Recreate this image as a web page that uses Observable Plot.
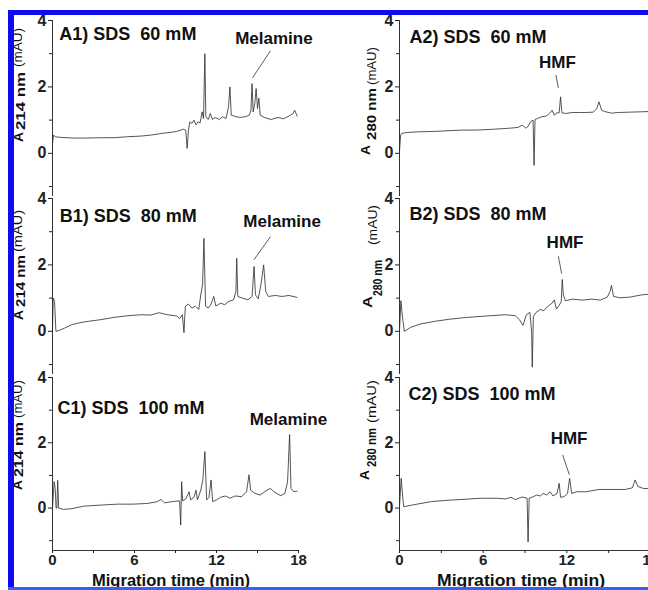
<!DOCTYPE html>
<html><head><meta charset="utf-8">
<script src="https://cdn.jsdelivr.net/npm/d3@7"></script>
<script src="https://cdn.jsdelivr.net/npm/@observablehq/plot@0.6"></script>
<style>
html,body{margin:0;padding:0;background:#fff;}
#chart{position:relative;width:648px;height:590px;overflow:hidden;background:#fff;font-family:"Liberation Sans",Arial,sans-serif;}
#chart > svg{position:absolute;}
</style></head><body><div id="chart"></div>
<script>
// ---- data: [migration time (min), absorbance (mAU)] ----
const timeTicks = [0, 6, 12, 18];
const timeMinor = [3, 9, 15];
const absTicks = [4, 2, 0];
const absMinor = [3, 1, -1];

const traceA1 = [[0,0.3],[0.08,0.55],[0.2,0.5],[0.6,0.48],[1.5,0.46],[2.5,0.46],[3.5,0.47],[4.5,0.47],[5.5,0.5],[6.5,0.52],[7.2,0.55],[8.0,0.6],[8.6,0.63],[9.1,0.66],[9.6,0.73],[9.75,0.7],[9.85,0.15],[9.95,0.7],[10.05,0.95],[10.2,0.9],[10.35,1.0],[10.5,0.86],[10.65,0.95],[10.8,0.92],[10.95,1.25],[11.05,1.05],[11.15,3.0],[11.22,1.1],[11.4,1.02],[11.55,1.2],[11.7,1.02],[11.9,1.08],[12.2,1.02],[12.45,1.1],[12.7,1.05],[12.88,1.4],[12.98,2.0],[13.08,1.15],[13.3,1.12],[13.7,1.08],[14.1,1.1],[14.4,1.15],[14.52,1.3],[14.6,2.1],[14.68,1.25],[14.8,1.5],[14.9,1.95],[15.0,1.35],[15.1,1.66],[15.2,1.15],[15.5,1.08],[16.0,1.02],[16.5,1.08],[16.9,1.04],[17.3,1.12],[17.6,1.2],[17.72,1.3],[17.9,1.12]];
const traceA2 = [[0,0.05],[0.08,0.55],[0.15,0.6],[0.6,0.63],[1.5,0.65],[2.5,0.66],[3.5,0.68],[4.5,0.7],[5.5,0.7],[6.5,0.72],[7.3,0.74],[8.0,0.76],[8.5,0.78],[8.8,0.85],[9.05,0.76],[9.2,0.8],[9.4,0.95],[9.58,1.0],[9.65,-0.36],[9.72,1.02],[9.9,1.05],[10.2,1.1],[10.5,1.12],[10.75,1.2],[10.95,1.3],[11.1,1.15],[11.3,1.22],[11.45,1.22],[11.55,1.7],[11.65,1.22],[11.9,1.2],[12.4,1.23],[12.9,1.23],[13.4,1.23],[13.9,1.24],[14.15,1.35],[14.3,1.55],[14.5,1.3],[14.7,1.26],[15.2,1.21],[15.7,1.23],[16.5,1.24],[17.3,1.25],[18,1.26]];
const traceB1 = [[0,0.0],[0.05,1.0],[0.15,0.9],[0.25,0.0],[0.5,0.03],[0.9,0.1],[1.4,0.2],[2.0,0.26],[2.6,0.3],[3.5,0.35],[4.5,0.42],[5.5,0.47],[6.5,0.5],[7.2,0.49],[7.8,0.56],[8.4,0.5],[9.1,0.46],[9.3,0.38],[9.5,0.5],[9.62,-0.04],[9.72,0.76],[9.95,0.82],[10.2,0.7],[10.45,0.76],[10.7,0.66],[10.85,1.1],[10.98,1.4],[11.08,2.8],[11.2,0.76],[11.4,0.7],[11.6,0.82],[11.8,1.05],[11.95,0.76],[12.3,0.85],[12.6,0.8],[12.9,0.9],[13.25,0.95],[13.42,1.2],[13.48,2.2],[13.56,1.05],[13.9,1.0],[14.3,0.95],[14.6,1.05],[14.75,1.95],[14.85,1.1],[15.05,0.98],[15.25,1.4],[15.45,2.0],[15.6,1.2],[15.8,1.05],[16.3,1.08],[16.8,1.05],[17.3,1.08],[17.9,1.02]];
const traceB2 = [[0,0.0],[0.1,0.92],[0.22,0.4],[0.35,0.0],[0.8,0.12],[1.5,0.22],[2.5,0.3],[3.5,0.36],[4.6,0.41],[5.5,0.44],[6.5,0.47],[7.6,0.5],[8.3,0.47],[8.6,0.35],[8.85,0.18],[9.1,0.5],[9.35,0.57],[9.48,-0.05],[9.52,-1.08],[9.6,0.45],[9.8,0.57],[10.1,0.66],[10.35,0.62],[10.6,0.74],[10.95,0.85],[11.1,0.95],[11.25,0.67],[11.45,0.78],[11.6,0.9],[11.67,1.56],[11.75,1.1],[11.9,0.92],[12.4,0.97],[13.1,0.94],[13.8,0.97],[14.4,0.94],[14.9,1.03],[15.1,1.2],[15.2,1.38],[15.35,1.05],[15.8,1.01],[16.5,1.03],[17.4,1.1],[18,1.12]];
const traceC1 = [[0,0.0],[0.12,0.81],[0.2,0.6],[0.26,0.0],[0.32,0.0],[0.38,0.85],[0.45,0.0],[0.8,-0.04],[1.4,-0.02],[2.3,0.06],[3.5,0.09],[4.75,0.12],[5.9,0.12],[6.9,0.14],[7.6,0.19],[7.95,0.26],[8.2,0.16],[8.8,0.2],[9.3,0.22],[9.38,-0.52],[9.45,0.81],[9.52,0.22],[9.75,0.28],[10.0,0.5],[10.1,0.25],[10.35,0.33],[10.5,0.55],[10.6,0.25],[10.85,0.55],[11.0,0.86],[11.15,1.73],[11.28,0.25],[11.45,0.33],[11.6,0.86],[11.72,0.2],[12.0,0.25],[12.3,0.33],[12.65,0.37],[13.0,0.3],[13.35,0.37],[13.85,0.35],[14.2,0.5],[14.38,1.02],[14.5,0.55],[14.8,0.45],[15.2,0.4],[15.7,0.55],[15.95,0.6],[16.2,0.5],[16.7,0.38],[17.0,0.45],[17.2,0.8],[17.35,2.25],[17.45,0.6],[17.65,0.5],[17.9,0.52]];
const traceC2 = [[0,0.04],[0.12,0.91],[0.22,0.4],[0.3,0.04],[1.0,0.1],[2.3,0.2],[3.5,0.24],[4.7,0.27],[5.8,0.3],[7.0,0.3],[7.6,0.28],[8.0,0.33],[8.3,0.26],[8.8,0.34],[9.15,0.3],[9.22,-1.04],[9.3,0.3],[9.6,0.35],[9.85,0.4],[10.1,0.37],[10.3,0.45],[10.55,0.4],[10.8,0.5],[11.0,0.37],[11.3,0.45],[11.45,0.76],[11.55,0.33],[11.8,0.35],[12.05,0.45],[12.2,0.91],[12.35,0.45],[12.7,0.5],[13.4,0.5],[14.3,0.57],[15.3,0.57],[16.2,0.57],[16.7,0.62],[16.9,0.86],[17.1,0.66],[17.5,0.6],[18,0.6]];

const titles = ["A1) SDS  60 mM","A2) SDS  60 mM","B1) SDS  80 mM","B2) SDS  80 mM","C1) SDS  100 mM","C2) SDS  100 mM"];
const peakNames = ["Melamine","HMF","Melamine","HMF","Melamine","HMF"];
const traces = [traceA1, traceA2, traceB1, traceB2, traceC1, traceC2];

// ---- label placement (data coordinates) ----
const titleAt = [[0.5,3.58],[0.72,3.5],[0.53,3.46],[0.72,3.54],[0.37,3.05],[0.65,3.48]];
const peakAt = [[16.2,3.45],[11.33,2.74],[16.8,3.31],[11.87,2.66],[17.26,2.71],[12.16,2.12]];
const leaders = [[[15.95,3.09],[14.63,2.27]],[[11.22,2.36],[11.39,1.97]],[[15.95,2.85],[14.73,2.15]],[[11.39,2.26],[11.63,1.74]],null,[[11.7,1.63],[12.18,1.02]]];

const FONT = '"Liberation Sans", Arial, Helvetica, sans-serif';
const rowTop = [0, 178, 357];
const chart = document.getElementById("chart");

traces.forEach((trace, i) => {
  const row = Math.floor(i / 2), col = i % 2;
  const bottom = row === 2;
  const frameH = bottom ? 173 : 176;
  const mb = bottom ? 36 : 4;
  const marks = [
    Plot.ruleX([0], {stroke: "#333", strokeWidth: 1}),
    Plot.axisY({ticks: absTicks, tickSize: 4, tickPadding: 2, tickFormat: d => String(d), label: null, fontSize: 16, fontWeight: "bold"}),
    Plot.axisY({ticks: absMinor, tickSize: 3, tickFormat: () => "", label: null}),
    Plot.line(trace, {x: d => d[0], y: d => d[1], stroke: "#2a2a2a", strokeWidth: 0.8}),
    Plot.text([{x: titleAt[i][0], y: titleAt[i][1], t: titles[i]}], {x: "x", y: "y", text: "t", textAnchor: "start", fontSize: 18, fontWeight: "bold", fill: "#111"}),
    Plot.text([{x: peakAt[i][0], y: peakAt[i][1], t: peakNames[i]}], {x: "x", y: "y", text: "t", fontSize: 17, fontWeight: "bold", fill: "#111"})
  ];
  if (leaders[i]) {
    marks.push(Plot.link([leaders[i]], {x1: d => d[0][0], y1: d => d[0][1], x2: d => d[1][0], y2: d => d[1][1], stroke: "#333", strokeWidth: 0.8}));
  }
  if (bottom) {
    marks.push(
      Plot.ruleY([-1.3], {stroke: "#333", strokeWidth: 1}),
      Plot.axisX({ticks: timeTicks, tickSize: 3, tickPadding: 1, tickFormat: d => String(d), label: null, fontSize: 15, fontWeight: "bold"}),
      Plot.axisX({ticks: timeMinor, tickSize: 3, tickFormat: () => "", label: null})
    );
  }
  const svg = Plot.plot({
    width: col === 0 ? 320 : 340,
    height: 20 + frameH + mb,
    marginTop: 20,
    marginBottom: mb,
    marginLeft: col === 0 ? 52 : 79,
    marginRight: col === 0 ? 22 : 10,
    x: {domain: [0, 18], axis: bottom ? undefined : null},
    y: {domain: [-1.3, 4]},
    style: {background: "transparent", overflow: "visible", fontFamily: FONT, fontSize: "16px", color: "#222"},
    marks
  });
  svg.style.left = (col === 0 ? 0 : 320) + "px";
  svg.style.top = rowTop[row] + "px";
  svg.style.maxWidth = "none";
  chart.appendChild(svg);
});

// ---- overlay: rotated y labels with subscripts, x labels, blue frame ----
const ov = d3.select(chart).append("svg")
  .attr("width", 648).attr("height", 590)
  .style("left", "0px").style("top", "0px")
  .style("font-family", FONT);

// [text, center x, bottom y, length, bold]
const yLabelParts = [
  ["A",19,142,10,true],["214 nm",21,130,58,true],["(mAU)",18,67,39,false],
  ["A",19,320,10,true],["214 nm",21,307,52,true],["(mAU)",18,252,42,false],
  ["A",18,490,10,true],["214 nm",19,477,55,true],["(mAU)",18,418,38,false],
  ["A",366,155,10,true],["280 nm",372,140,52,true],["(mAU)",372,85,38,false],
  ["A",368,308,12,true],["280 nm",378,296,36,true],["(mAU)",373,245,40,false],
  ["A",365,480,10,true],["280 nm",372,467,39,true],["(mAU)",372,423,43,false]
];
yLabelParts.forEach(([t, cx, yb, len, bold]) => {
  ov.append("text")
    .attr("transform", `translate(${cx},${yb}) rotate(-90)`)
    .attr("dominant-baseline", "central")
    .attr("text-anchor", "start")
    .attr("font-size", 12)
    .attr("font-weight", bold ? "bold" : "normal")
    .attr("textLength", len)
    .attr("lengthAdjust", "spacingAndGlyphs")
    .attr("fill", "#111")
    .text(t);
});

const xLabels = [["Migration time (min)",171,586,158],["Migration time (min)",521,586,168]];
xLabels.forEach(([t, cx, yb, len]) => {
  ov.append("text")
    .attr("x", cx - len / 2).attr("y", yb)
    .attr("font-size", 16).attr("font-weight", "bold")
    .attr("textLength", len).attr("lengthAdjust", "spacingAndGlyphs")
    .attr("fill", "#111")
    .text(t);
});

ov.append("rect").attr("x", 8).attr("y", 10).attr("width", 640).attr("height", 5).attr("fill", "#0c0cee");
ov.append("rect").attr("x", 8).attr("y", 10).attr("width", 6).attr("height", 580).attr("fill", "#0c0cee");
ov.append("rect").attr("x", 8).attr("y", 587).attr("width", 640).attr("height", 3).attr("fill", "#3d5ef5");
</script></body></html>
